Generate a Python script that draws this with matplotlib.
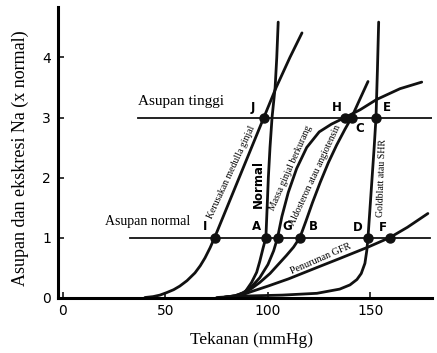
import matplotlib
matplotlib.use("Agg")
import matplotlib.pyplot as plt

# curves: pressure (mmHg) vs output (x normal)
kerusakan_x = [40, 44, 47.3, 50.5, 54, 57, 60.5, 64.4, 67, 69.3, 71.8, 74, 80, 86, 92, 98,
               104, 110.7, 116.6]
kerusakan_y = [0, 0.015, 0.04, 0.08, 0.13, 0.19, 0.28, 0.41, 0.53, 0.66, 0.83, 1.0, 1.5, 2.0,
               2.5, 3.0, 3.5, 4.0, 4.41]

normal_x = [78, 85, 89, 92, 94.5, 96, 97.6, 99, 99.6, 100.2, 101, 102, 103.5, 104.3, 105]
normal_y = [0, 0.03, 0.1, 0.25, 0.42, 0.6, 0.82, 1.0, 1.5, 2.0, 2.5, 3.0, 3.5, 4.0, 4.59]

massa_x = [78, 84, 88, 92, 96, 100, 102.8, 104.7, 106.8, 109.9, 114, 118.9, 125, 131, 137.6,
           145, 153, 164.4, 175]
massa_y = [0, 0.03, 0.08, 0.18, 0.33, 0.55, 0.78, 1.0, 1.35, 1.75, 2.15, 2.5, 2.76, 2.89, 3.0,
           3.13, 3.3, 3.48, 3.59]

aldo_x = [78, 84, 88, 92, 96, 101, 105, 109, 112.5, 115.6, 118.5, 121.7, 125.5, 129.5, 133.5,
          137.5, 140.8, 144.5, 148.8]
aldo_y = [0, 0.03, 0.07, 0.15, 0.25, 0.4, 0.55, 0.7, 0.84, 1.0, 1.27, 1.58, 1.92, 2.25, 2.54,
          2.8, 3.0, 3.28, 3.6]

goldblatt_x = [75, 85, 95, 107, 123.9, 135, 140, 143.4, 145.5, 147.3, 148.2, 148.8, 149.8,
               150.8, 151.8, 152.7, 153.4, 154]
goldblatt_y = [0, 0.02, 0.03, 0.04, 0.07, 0.14, 0.21, 0.3, 0.4, 0.57, 0.78, 1.0, 1.5,
               2.0, 2.5, 3.0, 3.8, 4.59]

gfr_x = [78, 85, 88, 91.2, 100, 110, 123.9, 135, 148.8, 159.5, 168, 178]
gfr_y = [0, 0.02, 0.05, 0.09, 0.19, 0.31, 0.5, 0.65, 0.84, 1.0, 1.17, 1.4]

# operating points
normal_intake_pts = [74, 99, 104.7, 115.6, 148.8, 159.5]     # I A G B D F
high_intake_pts = [98, 137.6, 140.8, 152.7]                  # J H C E

xticks = [0, 50, 100, 150]
yticks = [0, 1, 2, 3, 4]

serif = "Liberation Serif"
lw = 2.0

fig = plt.figure(figsize=(4.37, 3.53), dpi=100)
ax = fig.add_axes([0.1327, 0.1572, 0.8558, 0.8227])

ax.plot([36.6, 180], [3, 3], color="#111111", lw=1.3)
ax.plot([32.7, 179], [1, 1], color="#111111", lw=1.3)

for xs, ys in [(kerusakan_x, kerusakan_y), (normal_x, normal_y), (massa_x, massa_y),
               (aldo_x, aldo_y), (goldblatt_x, goldblatt_y), (gfr_x, gfr_y)]:
	ax.plot(xs, ys, color="#111111", lw=lw, solid_capstyle="round", solid_joinstyle="round")

ax.plot(normal_intake_pts, [1] * len(normal_intake_pts), "o", color="#111111", ms=6.5)
ax.plot(high_intake_pts, [3] * len(high_intake_pts), "o", color="#111111", ms=6.5)

ax.set_xlim(-2.4, 180)
ax.set_ylim(0, 4.84)
ax.set_xticks(xticks)
ax.set_yticks(yticks)
ax.tick_params(direction="in", length=4, width=1.1, labelsize=10, pad=5)
ax.spines["top"].set_visible(False)
ax.spines["right"].set_visible(False)
ax.spines["left"].set_linewidth(2.2)
ax.spines["bottom"].set_linewidth(2.2)

# intake labels
ax.text(36.6, 3.27, "Asupan tinggi", family=serif, size=11, ha="left", va="center")
ax.text(20.5, 1.26, "Asupan normal", family=serif, size=10, ha="left", va="center")

# curve labels
ax.text(82, 2.09, "Kerusakan medulla ginjal", family=serif, size=7, rotation=65,
	ha="center", va="center")
ax.text(95.1, 1.89, "Normal", family="DejaVu Sans", weight="bold", size=8.5, rotation=90,
	ha="center", va="center")
ax.text(111.3, 2.15, "Massa ginjal berkurang", family=serif, size=7, rotation=66,
	ha="center", va="center")
ax.text(123.2, 2.04, "Aldosteron atau angiotensin", family=serif, size=7, rotation=65,
	ha="center", va="center")
ax.text(155.6, 1.99, "Goldblatt atau SHR", family=serif, size=7, rotation=88,
	ha="center", va="center")
ax.text(125.9, 0.64, "Penurunan GFR", family=serif, size=7.2, rotation=23.5,
	ha="center", va="center")

# point letters
letters = [("J", 92.7, 3.16), ("H", 133.7, 3.16), ("E", 158.0, 3.16), ("C", 144.9, 2.825),
           ("I", 69.3, 1.19), ("A", 94.6, 1.19), ("G", 109.3, 1.19), ("B", 122.0, 1.19),
           ("D", 143.9, 1.175), ("F", 156.1, 1.175)]
for s, x, y in letters:
	ax.text(x, y, s, family="DejaVu Sans", weight="bold", size=8.5, ha="center", va="center")

fig.text(251.5 / 437, 1 - 340 / 353.0, "Tekanan (mmHg)", family=serif, size=12.5,
	ha="center", va="center")
fig.text(20 / 437.0, 1 - 158.5 / 353.0, "Asupan dan ekskresi Na (x normal)", family=serif,
	size=13, rotation=90, ha="center", va="center")

fig.savefig("out.png", dpi=100)
